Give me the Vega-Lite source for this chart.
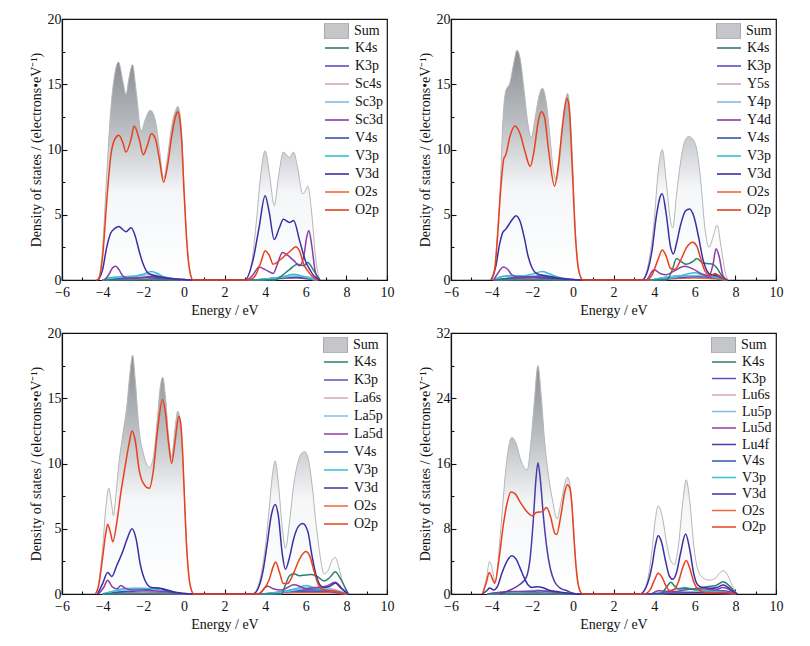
{
  "$schema": "https://vega.github.io/schema/vega-lite/v6.json",
  "background": "#ffffff",
  "padding": {"left": 28, "top": 11, "right": 4, "bottom": 4},
  "columns": 2,
  "spacing": {"row": 7, "column": 22},
  "datasets": {
    "A": [
      {"s":"Sum","x":-4.3,"y":0},{"s":"Sum","x":-4.2,"y":0.1},{"s":"Sum","x":-4.0,"y":2.5},{"s":"Sum","x":-3.8,"y":8},{"s":"Sum","x":-3.6,"y":13},{"s":"Sum","x":-3.4,"y":15.8},{"s":"Sum","x":-3.22,"y":16.7},{"s":"Sum","x":-3.0,"y":15.2},{"s":"Sum","x":-2.85,"y":14.2},{"s":"Sum","x":-2.7,"y":15.5},{"s":"Sum","x":-2.53,"y":16.5},{"s":"Sum","x":-2.35,"y":14.5},{"s":"Sum","x":-2.1,"y":11.4},{"s":"Sum","x":-1.9,"y":12.3},{"s":"Sum","x":-1.65,"y":13.0},{"s":"Sum","x":-1.4,"y":12.2},{"s":"Sum","x":-1.2,"y":10},{"s":"Sum","x":-1.0,"y":7.8},{"s":"Sum","x":-0.8,"y":9.5},{"s":"Sum","x":-0.6,"y":11.8},{"s":"Sum","x":-0.4,"y":13.0},{"s":"Sum","x":-0.3,"y":13.3},{"s":"Sum","x":-0.2,"y":12.8},{"s":"Sum","x":-0.1,"y":11},{"s":"Sum","x":0,"y":7.5},{"s":"Sum","x":0.1,"y":4.3},{"s":"Sum","x":0.2,"y":2},{"s":"Sum","x":0.3,"y":0.7},{"s":"Sum","x":0.45,"y":0},
      {"s":"Sum","x":3.0,"y":0},{"s":"Sum","x":3.2,"y":0.4},{"s":"Sum","x":3.4,"y":2},{"s":"Sum","x":3.6,"y":5},{"s":"Sum","x":3.8,"y":8.3},{"s":"Sum","x":4.0,"y":9.9},{"s":"Sum","x":4.2,"y":8.3},{"s":"Sum","x":4.45,"y":5.7},{"s":"Sum","x":4.65,"y":7.8},{"s":"Sum","x":4.9,"y":9.8},{"s":"Sum","x":5.05,"y":9.6},{"s":"Sum","x":5.2,"y":9.4},{"s":"Sum","x":5.4,"y":9.8},{"s":"Sum","x":5.6,"y":8.6},{"s":"Sum","x":5.85,"y":6.6},{"s":"Sum","x":6.0,"y":6.9},{"s":"Sum","x":6.1,"y":7.2},{"s":"Sum","x":6.3,"y":5},{"s":"Sum","x":6.5,"y":1.5},{"s":"Sum","x":6.7,"y":0},
      {"s":"O2s","x":-4,"y":0},{"s":"O2s","x":-2,"y":0.05},{"s":"O2s","x":0,"y":0},{"s":"O2s","x":3.5,"y":0},{"s":"O2s","x":4.5,"y":0.1},{"s":"O2s","x":5.5,"y":0.15},{"s":"O2s","x":6.5,"y":0},
      {"s":"Sc4s","x":-4,"y":0},{"s":"Sc4s","x":-2.5,"y":0.1},{"s":"Sc4s","x":-1.5,"y":0.15},{"s":"Sc4s","x":0,"y":0},{"s":"Sc4s","x":3.5,"y":0},{"s":"Sc4s","x":5,"y":0.2},{"s":"Sc4s","x":6,"y":0.25},{"s":"Sc4s","x":6.6,"y":0},
      {"s":"K3p","x":-4,"y":0},{"s":"K3p","x":-3,"y":0.1},{"s":"K3p","x":-2,"y":0.2},{"s":"K3p","x":-1.5,"y":0.25},{"s":"K3p","x":-1,"y":0.15},{"s":"K3p","x":0,"y":0},{"s":"K3p","x":3.5,"y":0},{"s":"K3p","x":4.5,"y":0.1},{"s":"K3p","x":5.5,"y":0.2},{"s":"K3p","x":6.5,"y":0},
      {"s":"V4s","x":-4,"y":0},{"s":"V4s","x":-3,"y":0.15},{"s":"V4s","x":-2,"y":0.2},{"s":"V4s","x":-1,"y":0.1},{"s":"V4s","x":0,"y":0},{"s":"V4s","x":3.5,"y":0},{"s":"V4s","x":4.5,"y":0.15},{"s":"V4s","x":5.5,"y":0.25},{"s":"V4s","x":6.5,"y":0},
      {"s":"Sc3p","x":-4,"y":0},{"s":"Sc3p","x":-3.5,"y":0.15},{"s":"Sc3p","x":-2.5,"y":0.25},{"s":"Sc3p","x":-2,"y":0.35},{"s":"Sc3p","x":-1.6,"y":0.45},{"s":"Sc3p","x":-1.2,"y":0.3},{"s":"Sc3p","x":-0.5,"y":0.1},{"s":"Sc3p","x":0,"y":0},{"s":"Sc3p","x":3.5,"y":0},{"s":"Sc3p","x":4.5,"y":0.15},{"s":"Sc3p","x":5.5,"y":0.3},{"s":"Sc3p","x":6,"y":0.25},{"s":"Sc3p","x":6.6,"y":0},
      {"s":"V3p","x":-4,"y":0},{"s":"V3p","x":-3.6,"y":0.2},{"s":"V3p","x":-3,"y":0.25},{"s":"V3p","x":-2.4,"y":0.3},{"s":"V3p","x":-2,"y":0.45},{"s":"V3p","x":-1.6,"y":0.65},{"s":"V3p","x":-1.3,"y":0.5},{"s":"V3p","x":-1,"y":0.25},{"s":"V3p","x":-0.5,"y":0.1},{"s":"V3p","x":0,"y":0},{"s":"V3p","x":3.5,"y":0},{"s":"V3p","x":4,"y":0.1},{"s":"V3p","x":4.5,"y":0.15},{"s":"V3p","x":5,"y":0.3},{"s":"V3p","x":5.4,"y":0.45},{"s":"V3p","x":5.7,"y":0.35},{"s":"V3p","x":6,"y":0.2},{"s":"V3p","x":6.5,"y":0},
      {"s":"K4s","x":-4,"y":0},{"s":"K4s","x":0,"y":0},{"s":"K4s","x":4.5,"y":0},{"s":"K4s","x":4.8,"y":0.3},{"s":"K4s","x":5.2,"y":0.8},{"s":"K4s","x":5.6,"y":1.2},{"s":"K4s","x":5.9,"y":1.1},{"s":"K4s","x":6.1,"y":1.35},{"s":"K4s","x":6.4,"y":0.7},{"s":"K4s","x":6.7,"y":0},
      {"s":"Sc3d","x":-3.9,"y":0},{"s":"Sc3d","x":-3.7,"y":0.4},{"s":"Sc3d","x":-3.5,"y":0.95},{"s":"Sc3d","x":-3.35,"y":1.05},{"s":"Sc3d","x":-3.2,"y":0.8},{"s":"Sc3d","x":-3.0,"y":0.3},{"s":"Sc3d","x":-2.8,"y":0.15},{"s":"Sc3d","x":-2.0,"y":0.2},{"s":"Sc3d","x":-1.5,"y":0.3},{"s":"Sc3d","x":-1.0,"y":0.15},{"s":"Sc3d","x":-0.5,"y":0.05},{"s":"Sc3d","x":0,"y":0},{"s":"Sc3d","x":3.1,"y":0},{"s":"Sc3d","x":3.4,"y":0.4},{"s":"Sc3d","x":3.7,"y":1.0},{"s":"Sc3d","x":4.0,"y":0.8},{"s":"Sc3d","x":4.4,"y":0.5},{"s":"Sc3d","x":4.6,"y":1.2},{"s":"Sc3d","x":4.85,"y":2.1},{"s":"Sc3d","x":5.1,"y":1.9},{"s":"Sc3d","x":5.4,"y":1.5},{"s":"Sc3d","x":5.7,"y":1.1},{"s":"Sc3d","x":5.9,"y":1.8},{"s":"Sc3d","x":6.05,"y":3.3},{"s":"Sc3d","x":6.15,"y":3.8},{"s":"Sc3d","x":6.3,"y":2.6},{"s":"Sc3d","x":6.45,"y":0.8},{"s":"Sc3d","x":6.6,"y":0},
      {"s":"V3d","x":-4.2,"y":0},{"s":"V3d","x":-4.0,"y":0.8},{"s":"V3d","x":-3.8,"y":2.5},{"s":"V3d","x":-3.6,"y":3.6},{"s":"V3d","x":-3.4,"y":3.95},{"s":"V3d","x":-3.2,"y":4.1},{"s":"V3d","x":-3.0,"y":3.85},{"s":"V3d","x":-2.85,"y":3.7},{"s":"V3d","x":-2.6,"y":4.0},{"s":"V3d","x":-2.4,"y":3.4},{"s":"V3d","x":-2.2,"y":2.2},{"s":"V3d","x":-2.0,"y":1.2},{"s":"V3d","x":-1.8,"y":0.6},{"s":"V3d","x":-1.5,"y":0.35},{"s":"V3d","x":-1.0,"y":0.2},{"s":"V3d","x":-0.5,"y":0.1},{"s":"V3d","x":0,"y":0.05},{"s":"V3d","x":0.3,"y":0},{"s":"V3d","x":3.0,"y":0},{"s":"V3d","x":3.4,"y":1.5},{"s":"V3d","x":3.7,"y":4},{"s":"V3d","x":4.0,"y":6.45},{"s":"V3d","x":4.2,"y":5.2},{"s":"V3d","x":4.45,"y":3.1},{"s":"V3d","x":4.7,"y":4},{"s":"V3d","x":4.9,"y":4.65},{"s":"V3d","x":5.2,"y":4.4},{"s":"V3d","x":5.4,"y":4.55},{"s":"V3d","x":5.7,"y":3},{"s":"V3d","x":6.0,"y":1.4},{"s":"V3d","x":6.2,"y":0.8},{"s":"V3d","x":6.4,"y":0.3},{"s":"V3d","x":6.7,"y":0},
      {"s":"O2p","x":-4.3,"y":0},{"s":"O2p","x":-4.2,"y":0.1},{"s":"O2p","x":-4.0,"y":1.8},{"s":"O2p","x":-3.8,"y":6},{"s":"O2p","x":-3.6,"y":9.5},{"s":"O2p","x":-3.4,"y":10.8},{"s":"O2p","x":-3.2,"y":11.1},{"s":"O2p","x":-3.0,"y":10.5},{"s":"O2p","x":-2.85,"y":9.8},{"s":"O2p","x":-2.6,"y":10.8},{"s":"O2p","x":-2.45,"y":11.8},{"s":"O2p","x":-2.2,"y":10.8},{"s":"O2p","x":-2.0,"y":9.6},{"s":"O2p","x":-1.8,"y":10.3},{"s":"O2p","x":-1.6,"y":11.2},{"s":"O2p","x":-1.4,"y":10.8},{"s":"O2p","x":-1.2,"y":9.2},{"s":"O2p","x":-1.0,"y":7.5},{"s":"O2p","x":-0.8,"y":8.8},{"s":"O2p","x":-0.6,"y":11},{"s":"O2p","x":-0.4,"y":12.6},{"s":"O2p","x":-0.3,"y":12.9},{"s":"O2p","x":-0.2,"y":12.3},{"s":"O2p","x":-0.1,"y":10.5},{"s":"O2p","x":0,"y":7},{"s":"O2p","x":0.1,"y":4},{"s":"O2p","x":0.2,"y":1.8},{"s":"O2p","x":0.3,"y":0.6},{"s":"O2p","x":0.45,"y":0},{"s":"O2p","x":3.2,"y":0},{"s":"O2p","x":3.5,"y":0.3},{"s":"O2p","x":3.8,"y":1.4},{"s":"O2p","x":4.0,"y":2.25},{"s":"O2p","x":4.2,"y":1.9},{"s":"O2p","x":4.4,"y":1.2},{"s":"O2p","x":4.7,"y":1.5},{"s":"O2p","x":5.0,"y":1.9},{"s":"O2p","x":5.3,"y":2.3},{"s":"O2p","x":5.5,"y":2.55},{"s":"O2p","x":5.7,"y":2.2},{"s":"O2p","x":5.9,"y":1.2},{"s":"O2p","x":6.1,"y":0.7},{"s":"O2p","x":6.3,"y":0.3},{"s":"O2p","x":6.6,"y":0}
    ],
    "B": [
      {"s":"Sum","x":-4.05,"y":0},{"s":"Sum","x":-3.85,"y":1},{"s":"Sum","x":-3.7,"y":4},{"s":"Sum","x":-3.55,"y":8},{"s":"Sum","x":-3.45,"y":12},{"s":"Sum","x":-3.3,"y":14.5},{"s":"Sum","x":-3.1,"y":15.1},{"s":"Sum","x":-2.9,"y":16.7},{"s":"Sum","x":-2.75,"y":17.6},{"s":"Sum","x":-2.6,"y":17.0},{"s":"Sum","x":-2.4,"y":14.5},{"s":"Sum","x":-2.2,"y":11.8},{"s":"Sum","x":-2.05,"y":10.9},{"s":"Sum","x":-1.85,"y":12.5},{"s":"Sum","x":-1.65,"y":14.2},{"s":"Sum","x":-1.5,"y":14.7},{"s":"Sum","x":-1.3,"y":13.5},{"s":"Sum","x":-1.1,"y":10.5},{"s":"Sum","x":-0.95,"y":8.3},{"s":"Sum","x":-0.8,"y":7.7},{"s":"Sum","x":-0.6,"y":10},{"s":"Sum","x":-0.4,"y":13.3},{"s":"Sum","x":-0.26,"y":14.3},{"s":"Sum","x":-0.15,"y":13},{"s":"Sum","x":0,"y":8.5},{"s":"Sum","x":0.1,"y":4.5},{"s":"Sum","x":0.2,"y":2},{"s":"Sum","x":0.3,"y":0.8},{"s":"Sum","x":0.5,"y":0},
      {"s":"Sum","x":3.4,"y":0},{"s":"Sum","x":3.6,"y":0.5},{"s":"Sum","x":3.8,"y":2},{"s":"Sum","x":4.0,"y":4.5},{"s":"Sum","x":4.2,"y":8.3},{"s":"Sum","x":4.4,"y":10.0},{"s":"Sum","x":4.6,"y":7.5},{"s":"Sum","x":4.8,"y":4.6},{"s":"Sum","x":4.92,"y":4.0},{"s":"Sum","x":5.1,"y":6.5},{"s":"Sum","x":5.3,"y":9.0},{"s":"Sum","x":5.5,"y":10.6},{"s":"Sum","x":5.7,"y":11.0},{"s":"Sum","x":5.9,"y":10.8},{"s":"Sum","x":6.1,"y":10.0},{"s":"Sum","x":6.3,"y":7.5},{"s":"Sum","x":6.5,"y":4.0},{"s":"Sum","x":6.7,"y":2.5},{"s":"Sum","x":6.9,"y":3.3},{"s":"Sum","x":7.1,"y":4.2},{"s":"Sum","x":7.3,"y":2.5},{"s":"Sum","x":7.5,"y":0.6},{"s":"Sum","x":7.65,"y":0},
      {"s":"O2s","x":-3.9,"y":0},{"s":"O2s","x":-2,"y":0.05},{"s":"O2s","x":0,"y":0},{"s":"O2s","x":3.8,"y":0},{"s":"O2s","x":5,"y":0.1},{"s":"O2s","x":6,"y":0.15},{"s":"O2s","x":7.5,"y":0},
      {"s":"Y5s","x":-3.9,"y":0},{"s":"Y5s","x":-2.5,"y":0.1},{"s":"Y5s","x":-1,"y":0.1},{"s":"Y5s","x":0,"y":0},{"s":"Y5s","x":3.8,"y":0},{"s":"Y5s","x":5,"y":0.2},{"s":"Y5s","x":6,"y":0.3},{"s":"Y5s","x":7,"y":0.2},{"s":"Y5s","x":7.6,"y":0},
      {"s":"K3p","x":-3.9,"y":0},{"s":"K3p","x":-3,"y":0.15},{"s":"K3p","x":-2,"y":0.2},{"s":"K3p","x":-1,"y":0.15},{"s":"K3p","x":0,"y":0},{"s":"K3p","x":3.8,"y":0},{"s":"K3p","x":5,"y":0.15},{"s":"K3p","x":6,"y":0.25},{"s":"K3p","x":7,"y":0.15},{"s":"K3p","x":7.6,"y":0},
      {"s":"V4s","x":-3.9,"y":0},{"s":"V4s","x":-3,"y":0.15},{"s":"V4s","x":-2,"y":0.2},{"s":"V4s","x":-1,"y":0.1},{"s":"V4s","x":0,"y":0},{"s":"V4s","x":3.8,"y":0},{"s":"V4s","x":4.5,"y":0.2},{"s":"V4s","x":5.5,"y":0.3},{"s":"V4s","x":6.5,"y":0.3},{"s":"V4s","x":7,"y":0.45},{"s":"V4s","x":7.5,"y":0},
      {"s":"Y4p","x":-3.9,"y":0},{"s":"Y4p","x":-3.4,"y":0.3},{"s":"Y4p","x":-3,"y":0.35},{"s":"Y4p","x":-2,"y":0.3},{"s":"Y4p","x":-1.5,"y":0.4},{"s":"Y4p","x":-1,"y":0.25},{"s":"Y4p","x":0,"y":0},{"s":"Y4p","x":3.8,"y":0},{"s":"Y4p","x":4.5,"y":0.2},{"s":"Y4p","x":5.5,"y":0.3},{"s":"Y4p","x":6.2,"y":0.35},{"s":"Y4p","x":7,"y":0.25},{"s":"Y4p","x":7.6,"y":0},
      {"s":"V3p","x":-3.9,"y":0},{"s":"V3p","x":-3.5,"y":0.25},{"s":"V3p","x":-3,"y":0.3},{"s":"V3p","x":-2.5,"y":0.3},{"s":"V3p","x":-2,"y":0.45},{"s":"V3p","x":-1.5,"y":0.65},{"s":"V3p","x":-1.2,"y":0.5},{"s":"V3p","x":-0.8,"y":0.25},{"s":"V3p","x":-0.3,"y":0.1},{"s":"V3p","x":0.1,"y":0},{"s":"V3p","x":3.8,"y":0},{"s":"V3p","x":4.2,"y":0.1},{"s":"V3p","x":5,"y":0.2},{"s":"V3p","x":5.6,"y":0.45},{"s":"V3p","x":6,"y":0.55},{"s":"V3p","x":6.4,"y":0.4},{"s":"V3p","x":7,"y":0.2},{"s":"V3p","x":7.5,"y":0},
      {"s":"K4s","x":-3.9,"y":0},{"s":"K4s","x":0,"y":0},{"s":"K4s","x":4.6,"y":0},{"s":"K4s","x":4.9,"y":0.8},{"s":"K4s","x":5.1,"y":1.65},{"s":"K4s","x":5.3,"y":1.45},{"s":"K4s","x":5.6,"y":1.2},{"s":"K4s","x":5.9,"y":1.4},{"s":"K4s","x":6.1,"y":1.65},{"s":"K4s","x":6.4,"y":1.3},{"s":"K4s","x":6.7,"y":1.25},{"s":"K4s","x":6.9,"y":1.2},{"s":"K4s","x":7.1,"y":0.9},{"s":"K4s","x":7.3,"y":0.4},{"s":"K4s","x":7.5,"y":0},
      {"s":"Y4d","x":-3.9,"y":0},{"s":"Y4d","x":-3.7,"y":0.5},{"s":"Y4d","x":-3.42,"y":1.0},{"s":"Y4d","x":-3.2,"y":0.8},{"s":"Y4d","x":-3.0,"y":0.4},{"s":"Y4d","x":-2.7,"y":0.25},{"s":"Y4d","x":-2.0,"y":0.25},{"s":"Y4d","x":-1.5,"y":0.3},{"s":"Y4d","x":-1.0,"y":0.25},{"s":"Y4d","x":-0.5,"y":0.1},{"s":"Y4d","x":0,"y":0},{"s":"Y4d","x":3.6,"y":0},{"s":"Y4d","x":4.0,"y":0.78},{"s":"Y4d","x":4.3,"y":0.5},{"s":"Y4d","x":4.6,"y":0.4},{"s":"Y4d","x":5.0,"y":0.7},{"s":"Y4d","x":5.5,"y":1.05},{"s":"Y4d","x":5.9,"y":0.85},{"s":"Y4d","x":6.3,"y":0.5},{"s":"Y4d","x":6.7,"y":0.3},{"s":"Y4d","x":6.9,"y":1.2},{"s":"Y4d","x":7.05,"y":2.4},{"s":"Y4d","x":7.2,"y":1.8},{"s":"Y4d","x":7.4,"y":0.3},{"s":"Y4d","x":7.6,"y":0},
      {"s":"V3d","x":-4.0,"y":0},{"s":"V3d","x":-3.8,"y":1},{"s":"V3d","x":-3.6,"y":2.8},{"s":"V3d","x":-3.45,"y":3.65},{"s":"V3d","x":-3.3,"y":3.9},{"s":"V3d","x":-3.0,"y":4.6},{"s":"V3d","x":-2.8,"y":4.93},{"s":"V3d","x":-2.6,"y":4.5},{"s":"V3d","x":-2.4,"y":3.3},{"s":"V3d","x":-2.2,"y":1.8},{"s":"V3d","x":-2.0,"y":0.9},{"s":"V3d","x":-1.8,"y":0.5},{"s":"V3d","x":-1.5,"y":0.35},{"s":"V3d","x":-1.0,"y":0.2},{"s":"V3d","x":-0.5,"y":0.1},{"s":"V3d","x":0,"y":0.05},{"s":"V3d","x":0.3,"y":0},{"s":"V3d","x":3.4,"y":0},{"s":"V3d","x":3.7,"y":0.8},{"s":"V3d","x":3.9,"y":2.3},{"s":"V3d","x":4.1,"y":4.8},{"s":"V3d","x":4.3,"y":6.4},{"s":"V3d","x":4.4,"y":6.6},{"s":"V3d","x":4.6,"y":5.0},{"s":"V3d","x":4.8,"y":2.6},{"s":"V3d","x":4.95,"y":2.0},{"s":"V3d","x":5.1,"y":2.8},{"s":"V3d","x":5.3,"y":4.2},{"s":"V3d","x":5.55,"y":5.3},{"s":"V3d","x":5.75,"y":5.45},{"s":"V3d","x":5.95,"y":4.9},{"s":"V3d","x":6.2,"y":3.2},{"s":"V3d","x":6.4,"y":1.6},{"s":"V3d","x":6.6,"y":0.7},{"s":"V3d","x":6.8,"y":0.4},{"s":"V3d","x":7.1,"y":0.3},{"s":"V3d","x":7.4,"y":0.1},{"s":"V3d","x":7.6,"y":0},
      {"s":"O2p","x":-4.05,"y":0},{"s":"O2p","x":-3.85,"y":0.8},{"s":"O2p","x":-3.7,"y":3.5},{"s":"O2p","x":-3.55,"y":7},{"s":"O2p","x":-3.4,"y":9.3},{"s":"O2p","x":-3.3,"y":9.6},{"s":"O2p","x":-3.1,"y":11},{"s":"O2p","x":-2.85,"y":11.8},{"s":"O2p","x":-2.6,"y":11.2},{"s":"O2p","x":-2.35,"y":9.8},{"s":"O2p","x":-2.1,"y":8.7},{"s":"O2p","x":-1.9,"y":10},{"s":"O2p","x":-1.7,"y":12.2},{"s":"O2p","x":-1.55,"y":12.9},{"s":"O2p","x":-1.4,"y":12.5},{"s":"O2p","x":-1.2,"y":10},{"s":"O2p","x":-0.9,"y":7.2},{"s":"O2p","x":-0.7,"y":9},{"s":"O2p","x":-0.5,"y":12},{"s":"O2p","x":-0.3,"y":13.9},{"s":"O2p","x":-0.2,"y":13.5},{"s":"O2p","x":-0.1,"y":11},{"s":"O2p","x":0,"y":7.5},{"s":"O2p","x":0.1,"y":4},{"s":"O2p","x":0.2,"y":1.8},{"s":"O2p","x":0.3,"y":0.6},{"s":"O2p","x":0.5,"y":0},{"s":"O2p","x":3.6,"y":0},{"s":"O2p","x":3.9,"y":0.4},{"s":"O2p","x":4.2,"y":1.6},{"s":"O2p","x":4.4,"y":2.3},{"s":"O2p","x":4.6,"y":1.8},{"s":"O2p","x":4.8,"y":0.9},{"s":"O2p","x":5.0,"y":0.8},{"s":"O2p","x":5.3,"y":1.5},{"s":"O2p","x":5.6,"y":2.5},{"s":"O2p","x":5.9,"y":2.9},{"s":"O2p","x":6.1,"y":2.6},{"s":"O2p","x":6.3,"y":1.6},{"s":"O2p","x":6.5,"y":0.7},{"s":"O2p","x":6.8,"y":0.3},{"s":"O2p","x":7.0,"y":0.5},{"s":"O2p","x":7.2,"y":0.3},{"s":"O2p","x":7.5,"y":0}
    ],
    "C": [
      {"s":"Sum","x":-4.35,"y":0},{"s":"Sum","x":-4.2,"y":0.8},{"s":"Sum","x":-4.0,"y":3.5},{"s":"Sum","x":-3.85,"y":6.5},{"s":"Sum","x":-3.7,"y":8.1},{"s":"Sum","x":-3.55,"y":6.8},{"s":"Sum","x":-3.47,"y":6.0},{"s":"Sum","x":-3.35,"y":7.5},{"s":"Sum","x":-3.2,"y":10},{"s":"Sum","x":-3.0,"y":12.3},{"s":"Sum","x":-2.8,"y":14.5},{"s":"Sum","x":-2.65,"y":17},{"s":"Sum","x":-2.52,"y":18.3},{"s":"Sum","x":-2.4,"y":16.5},{"s":"Sum","x":-2.2,"y":12.5},{"s":"Sum","x":-2.0,"y":10.8},{"s":"Sum","x":-1.7,"y":9.7},{"s":"Sum","x":-1.5,"y":10.5},{"s":"Sum","x":-1.3,"y":13.5},{"s":"Sum","x":-1.15,"y":16},{"s":"Sum","x":-1.04,"y":16.6},{"s":"Sum","x":-0.9,"y":15},{"s":"Sum","x":-0.75,"y":12},{"s":"Sum","x":-0.6,"y":10.5},{"s":"Sum","x":-0.45,"y":12.5},{"s":"Sum","x":-0.3,"y":14.0},{"s":"Sum","x":-0.2,"y":13.5},{"s":"Sum","x":-0.1,"y":11.5},{"s":"Sum","x":0,"y":8.5},{"s":"Sum","x":0.1,"y":5},{"s":"Sum","x":0.2,"y":2.2},{"s":"Sum","x":0.3,"y":0.8},{"s":"Sum","x":0.5,"y":0},
      {"s":"Sum","x":3.4,"y":0},{"s":"Sum","x":3.6,"y":0.4},{"s":"Sum","x":3.8,"y":1.5},{"s":"Sum","x":4.0,"y":3.5},{"s":"Sum","x":4.2,"y":6.5},{"s":"Sum","x":4.35,"y":9},{"s":"Sum","x":4.5,"y":10.2},{"s":"Sum","x":4.65,"y":8.5},{"s":"Sum","x":4.85,"y":5},{"s":"Sum","x":5.0,"y":3.5},{"s":"Sum","x":5.2,"y":5.5},{"s":"Sum","x":5.4,"y":8.3},{"s":"Sum","x":5.6,"y":10.0},{"s":"Sum","x":5.8,"y":10.8},{"s":"Sum","x":5.95,"y":10.9},{"s":"Sum","x":6.1,"y":10.5},{"s":"Sum","x":6.3,"y":8.5},{"s":"Sum","x":6.5,"y":5.5},{"s":"Sum","x":6.7,"y":3},{"s":"Sum","x":6.9,"y":1.55},{"s":"Sum","x":7.1,"y":1.8},{"s":"Sum","x":7.3,"y":2.6},{"s":"Sum","x":7.45,"y":2.8},{"s":"Sum","x":7.6,"y":2.2},{"s":"Sum","x":7.8,"y":1.0},{"s":"Sum","x":8.0,"y":0.2},{"s":"Sum","x":8.1,"y":0},
      {"s":"O2s","x":-4,"y":0},{"s":"O2s","x":-2,"y":0.05},{"s":"O2s","x":0,"y":0},{"s":"O2s","x":3.8,"y":0},{"s":"O2s","x":5.5,"y":0.1},{"s":"O2s","x":7,"y":0.1},{"s":"O2s","x":8,"y":0},
      {"s":"La6s","x":-4,"y":0},{"s":"La6s","x":-2.5,"y":0.1},{"s":"La6s","x":-1,"y":0.1},{"s":"La6s","x":0,"y":0},{"s":"La6s","x":3.8,"y":0},{"s":"La6s","x":5,"y":0.1},{"s":"La6s","x":6,"y":0.3},{"s":"La6s","x":7,"y":0.5},{"s":"La6s","x":7.5,"y":0.3},{"s":"La6s","x":8.1,"y":0},
      {"s":"K3p","x":-4,"y":0},{"s":"K3p","x":-3,"y":0.15},{"s":"K3p","x":-2,"y":0.2},{"s":"K3p","x":-1,"y":0.15},{"s":"K3p","x":0,"y":0},{"s":"K3p","x":3.8,"y":0},{"s":"K3p","x":5.5,"y":0.2},{"s":"K3p","x":7,"y":0.2},{"s":"K3p","x":8,"y":0},
      {"s":"V4s","x":-4,"y":0},{"s":"V4s","x":-3,"y":0.2},{"s":"V4s","x":-2,"y":0.3},{"s":"V4s","x":-1.2,"y":0.45},{"s":"V4s","x":-0.5,"y":0.15},{"s":"V4s","x":0,"y":0},{"s":"V4s","x":3.8,"y":0},{"s":"V4s","x":5,"y":0.2},{"s":"V4s","x":6,"y":0.3},{"s":"V4s","x":7,"y":0.3},{"s":"V4s","x":8,"y":0},
      {"s":"La5p","x":-4,"y":0},{"s":"La5p","x":-3,"y":0.3},{"s":"La5p","x":-2,"y":0.25},{"s":"La5p","x":-1,"y":0.2},{"s":"La5p","x":0,"y":0},{"s":"La5p","x":3.8,"y":0},{"s":"La5p","x":4.5,"y":0.1},{"s":"La5p","x":5.5,"y":0.3},{"s":"La5p","x":6,"y":0.5},{"s":"La5p","x":7,"y":0.4},{"s":"La5p","x":8,"y":0},
      {"s":"V3p","x":-4,"y":0},{"s":"V3p","x":-3.5,"y":0.2},{"s":"V3p","x":-3,"y":0.4},{"s":"V3p","x":-2.5,"y":0.45},{"s":"V3p","x":-2,"y":0.45},{"s":"V3p","x":-1.5,"y":0.4},{"s":"V3p","x":-1,"y":0.3},{"s":"V3p","x":-0.5,"y":0.1},{"s":"V3p","x":0,"y":0},{"s":"V3p","x":3.8,"y":0},{"s":"V3p","x":4.5,"y":0.1},{"s":"V3p","x":5.5,"y":0.4},{"s":"V3p","x":6,"y":0.65},{"s":"V3p","x":6.4,"y":0.5},{"s":"V3p","x":7,"y":0.3},{"s":"V3p","x":7.5,"y":0.2},{"s":"V3p","x":8,"y":0},
      {"s":"K4s","x":-4,"y":0},{"s":"K4s","x":0,"y":0},{"s":"K4s","x":4.8,"y":0},{"s":"K4s","x":5.0,"y":0.7},{"s":"K4s","x":5.2,"y":1.4},{"s":"K4s","x":5.4,"y":1.55},{"s":"K4s","x":5.7,"y":1.4},{"s":"K4s","x":6.0,"y":1.45},{"s":"K4s","x":6.3,"y":1.5},{"s":"K4s","x":6.6,"y":1.3},{"s":"K4s","x":6.9,"y":1.0},{"s":"K4s","x":7.2,"y":1.3},{"s":"K4s","x":7.45,"y":1.7},{"s":"K4s","x":7.7,"y":1.2},{"s":"K4s","x":8.0,"y":0.3},{"s":"K4s","x":8.1,"y":0},
      {"s":"La5d","x":-4.2,"y":0},{"s":"La5d","x":-3.95,"y":0.5},{"s":"La5d","x":-3.75,"y":1.05},{"s":"La5d","x":-3.55,"y":0.6},{"s":"La5d","x":-3.3,"y":0.4},{"s":"La5d","x":-3.1,"y":0.65},{"s":"La5d","x":-2.9,"y":0.45},{"s":"La5d","x":-2.5,"y":0.3},{"s":"La5d","x":-2.0,"y":0.3},{"s":"La5d","x":-1.5,"y":0.25},{"s":"La5d","x":-1.0,"y":0.2},{"s":"La5d","x":-0.5,"y":0.1},{"s":"La5d","x":0,"y":0},{"s":"La5d","x":3.7,"y":0},{"s":"La5d","x":4.0,"y":0.5},{"s":"La5d","x":4.15,"y":0.6},{"s":"La5d","x":4.4,"y":0.4},{"s":"La5d","x":4.8,"y":0.3},{"s":"La5d","x":5.1,"y":0.5},{"s":"La5d","x":5.4,"y":0.7},{"s":"La5d","x":5.7,"y":0.6},{"s":"La5d","x":6.0,"y":0.4},{"s":"La5d","x":6.5,"y":0.5},{"s":"La5d","x":7.0,"y":0.6},{"s":"La5d","x":7.45,"y":0.9},{"s":"La5d","x":7.8,"y":0.4},{"s":"La5d","x":8.1,"y":0},
      {"s":"V3d","x":-4.25,"y":0},{"s":"V3d","x":-4.0,"y":0.8},{"s":"V3d","x":-3.75,"y":1.65},{"s":"V3d","x":-3.55,"y":1.35},{"s":"V3d","x":-3.3,"y":2.2},{"s":"V3d","x":-3.0,"y":3.3},{"s":"V3d","x":-2.8,"y":4.2},{"s":"V3d","x":-2.55,"y":5.0},{"s":"V3d","x":-2.35,"y":4.2},{"s":"V3d","x":-2.15,"y":2.3},{"s":"V3d","x":-1.9,"y":1.0},{"s":"V3d","x":-1.6,"y":0.5},{"s":"V3d","x":-1.2,"y":0.45},{"s":"V3d","x":-0.9,"y":0.3},{"s":"V3d","x":-0.5,"y":0.15},{"s":"V3d","x":0,"y":0.05},{"s":"V3d","x":0.3,"y":0},{"s":"V3d","x":3.4,"y":0},{"s":"V3d","x":3.7,"y":0.6},{"s":"V3d","x":3.9,"y":1.8},{"s":"V3d","x":4.1,"y":3.8},{"s":"V3d","x":4.3,"y":6.0},{"s":"V3d","x":4.5,"y":6.85},{"s":"V3d","x":4.65,"y":6.0},{"s":"V3d","x":4.85,"y":3.0},{"s":"V3d","x":5.0,"y":1.9},{"s":"V3d","x":5.2,"y":2.8},{"s":"V3d","x":5.4,"y":4.2},{"s":"V3d","x":5.65,"y":5.2},{"s":"V3d","x":5.85,"y":5.4},{"s":"V3d","x":6.1,"y":4.8},{"s":"V3d","x":6.3,"y":3.0},{"s":"V3d","x":6.5,"y":1.5},{"s":"V3d","x":6.7,"y":0.7},{"s":"V3d","x":6.9,"y":0.5},{"s":"V3d","x":7.2,"y":0.6},{"s":"V3d","x":7.45,"y":0.85},{"s":"V3d","x":7.7,"y":0.5},{"s":"V3d","x":8.0,"y":0.1},{"s":"V3d","x":8.1,"y":0},
      {"s":"O2p","x":-4.35,"y":0},{"s":"O2p","x":-4.2,"y":0.6},{"s":"O2p","x":-4.0,"y":2.8},{"s":"O2p","x":-3.85,"y":4.6},{"s":"O2p","x":-3.75,"y":5.35},{"s":"O2p","x":-3.6,"y":4.6},{"s":"O2p","x":-3.5,"y":4.0},{"s":"O2p","x":-3.3,"y":5.5},{"s":"O2p","x":-3.1,"y":7.8},{"s":"O2p","x":-2.9,"y":9.7},{"s":"O2p","x":-2.7,"y":11.5},{"s":"O2p","x":-2.55,"y":12.5},{"s":"O2p","x":-2.4,"y":11.8},{"s":"O2p","x":-2.2,"y":9.5},{"s":"O2p","x":-2.0,"y":8.5},{"s":"O2p","x":-1.7,"y":8.1},{"s":"O2p","x":-1.5,"y":9.5},{"s":"O2p","x":-1.3,"y":12.5},{"s":"O2p","x":-1.05,"y":14.9},{"s":"O2p","x":-0.9,"y":13.8},{"s":"O2p","x":-0.75,"y":11.5},{"s":"O2p","x":-0.6,"y":10.0},{"s":"O2p","x":-0.45,"y":11.5},{"s":"O2p","x":-0.25,"y":13.6},{"s":"O2p","x":-0.15,"y":13},{"s":"O2p","x":-0.05,"y":10.5},{"s":"O2p","x":0.05,"y":6.5},{"s":"O2p","x":0.15,"y":3.2},{"s":"O2p","x":0.25,"y":1.3},{"s":"O2p","x":0.35,"y":0.4},{"s":"O2p","x":0.5,"y":0},{"s":"O2p","x":3.6,"y":0},{"s":"O2p","x":3.9,"y":0.3},{"s":"O2p","x":4.2,"y":1.1},{"s":"O2p","x":4.4,"y":2.1},{"s":"O2p","x":4.52,"y":2.45},{"s":"O2p","x":4.7,"y":1.7},{"s":"O2p","x":4.9,"y":0.8},{"s":"O2p","x":5.1,"y":0.8},{"s":"O2p","x":5.4,"y":1.6},{"s":"O2p","x":5.7,"y":2.7},{"s":"O2p","x":6.0,"y":3.25},{"s":"O2p","x":6.2,"y":2.9},{"s":"O2p","x":6.4,"y":1.8},{"s":"O2p","x":6.6,"y":0.8},{"s":"O2p","x":6.9,"y":0.3},{"s":"O2p","x":7.3,"y":0.25},{"s":"O2p","x":7.6,"y":0.15},{"s":"O2p","x":8.0,"y":0}
    ],
    "D": [
      {"s":"Sum","x":-4.45,"y":0},{"s":"Sum","x":-4.25,"y":2},{"s":"Sum","x":-4.1,"y":4.0},{"s":"Sum","x":-3.95,"y":2.8},{"s":"Sum","x":-3.82,"y":1.4},{"s":"Sum","x":-3.65,"y":5},{"s":"Sum","x":-3.45,"y":11},{"s":"Sum","x":-3.25,"y":16.5},{"s":"Sum","x":-3.0,"y":19.2},{"s":"Sum","x":-2.8,"y":18.5},{"s":"Sum","x":-2.55,"y":16.3},{"s":"Sum","x":-2.25,"y":15.2},{"s":"Sum","x":-2.05,"y":19},{"s":"Sum","x":-1.9,"y":23.5},{"s":"Sum","x":-1.72,"y":28.0},{"s":"Sum","x":-1.55,"y":24},{"s":"Sum","x":-1.4,"y":19},{"s":"Sum","x":-1.2,"y":14.5},{"s":"Sum","x":-1.0,"y":11.5},{"s":"Sum","x":-0.78,"y":9.2},{"s":"Sum","x":-0.6,"y":11},{"s":"Sum","x":-0.4,"y":13.5},{"s":"Sum","x":-0.27,"y":14.3},{"s":"Sum","x":-0.15,"y":13.5},{"s":"Sum","x":0,"y":9.5},{"s":"Sum","x":0.1,"y":5.5},{"s":"Sum","x":0.2,"y":2.5},{"s":"Sum","x":0.3,"y":0.8},{"s":"Sum","x":0.45,"y":0},
      {"s":"Sum","x":3.3,"y":0},{"s":"Sum","x":3.5,"y":0.5},{"s":"Sum","x":3.7,"y":2},{"s":"Sum","x":3.9,"y":5.5},{"s":"Sum","x":4.05,"y":9},{"s":"Sum","x":4.2,"y":10.8},{"s":"Sum","x":4.4,"y":9.5},{"s":"Sum","x":4.6,"y":6.5},{"s":"Sum","x":4.8,"y":4.2},{"s":"Sum","x":5.0,"y":3.6},{"s":"Sum","x":5.2,"y":6},{"s":"Sum","x":5.4,"y":11},{"s":"Sum","x":5.58,"y":14.0},{"s":"Sum","x":5.75,"y":11.5},{"s":"Sum","x":5.95,"y":6},{"s":"Sum","x":6.15,"y":3},{"s":"Sum","x":6.4,"y":2.0},{"s":"Sum","x":6.7,"y":1.7},{"s":"Sum","x":7.0,"y":1.9},{"s":"Sum","x":7.2,"y":2.5},{"s":"Sum","x":7.4,"y":2.85},{"s":"Sum","x":7.6,"y":2.4},{"s":"Sum","x":7.8,"y":1.3},{"s":"Sum","x":8.0,"y":0.3},{"s":"Sum","x":8.1,"y":0},
      {"s":"O2s","x":-4.2,"y":0},{"s":"O2s","x":-2,"y":0.05},{"s":"O2s","x":0,"y":0},{"s":"O2s","x":3.8,"y":0},{"s":"O2s","x":5.5,"y":0.1},{"s":"O2s","x":7,"y":0.1},{"s":"O2s","x":8,"y":0},
      {"s":"Lu6s","x":-4.2,"y":0},{"s":"Lu6s","x":-2,"y":0.1},{"s":"Lu6s","x":0,"y":0},{"s":"Lu6s","x":3.8,"y":0},{"s":"Lu6s","x":5.5,"y":0.15},{"s":"Lu6s","x":7,"y":0.2},{"s":"Lu6s","x":8,"y":0},
      {"s":"K3p","x":-4.2,"y":0},{"s":"K3p","x":-3,"y":0.2},{"s":"K3p","x":-2,"y":0.25},{"s":"K3p","x":-1,"y":0.15},{"s":"K3p","x":0,"y":0},{"s":"K3p","x":3.8,"y":0},{"s":"K3p","x":5.5,"y":0.2},{"s":"K3p","x":7,"y":0.2},{"s":"K3p","x":8,"y":0},
      {"s":"V4s","x":-4.2,"y":0},{"s":"V4s","x":-3,"y":0.2},{"s":"V4s","x":-1.7,"y":0.3},{"s":"V4s","x":-0.5,"y":0.1},{"s":"V4s","x":0,"y":0},{"s":"V4s","x":3.8,"y":0},{"s":"V4s","x":5,"y":0.2},{"s":"V4s","x":6,"y":0.3},{"s":"V4s","x":7.4,"y":0.4},{"s":"V4s","x":8,"y":0},
      {"s":"Lu5p","x":-4.2,"y":0},{"s":"Lu5p","x":-3,"y":0.2},{"s":"Lu5p","x":-1.7,"y":0.3},{"s":"Lu5p","x":-1,"y":0.2},{"s":"Lu5p","x":0,"y":0},{"s":"Lu5p","x":3.8,"y":0},{"s":"Lu5p","x":5,"y":0.2},{"s":"Lu5p","x":6,"y":0.3},{"s":"Lu5p","x":7,"y":0.3},{"s":"Lu5p","x":8,"y":0},
      {"s":"V3p","x":-4.2,"y":0},{"s":"V3p","x":-3.5,"y":0.2},{"s":"V3p","x":-2.5,"y":0.3},{"s":"V3p","x":-1.7,"y":0.45},{"s":"V3p","x":-1,"y":0.3},{"s":"V3p","x":-0.3,"y":0.1},{"s":"V3p","x":0.1,"y":0},{"s":"V3p","x":3.8,"y":0},{"s":"V3p","x":4.5,"y":0.2},{"s":"V3p","x":5.5,"y":0.8},{"s":"V3p","x":6,"y":0.5},{"s":"V3p","x":6.5,"y":0.4},{"s":"V3p","x":7,"y":0.3},{"s":"V3p","x":7.5,"y":0.2},{"s":"V3p","x":8,"y":0},
      {"s":"Lu5d","x":-4.2,"y":0},{"s":"Lu5d","x":-3,"y":0.3},{"s":"Lu5d","x":-2,"y":0.3},{"s":"Lu5d","x":-1.7,"y":0.4},{"s":"Lu5d","x":-1,"y":0.25},{"s":"Lu5d","x":0,"y":0},{"s":"Lu5d","x":3.8,"y":0},{"s":"Lu5d","x":4.2,"y":0.4},{"s":"Lu5d","x":5,"y":0.3},{"s":"Lu5d","x":5.5,"y":0.5},{"s":"Lu5d","x":6,"y":0.6},{"s":"Lu5d","x":6.5,"y":0.6},{"s":"Lu5d","x":7,"y":0.5},{"s":"Lu5d","x":7.4,"y":0.8},{"s":"Lu5d","x":8,"y":0},
      {"s":"K4s","x":-4.2,"y":0},{"s":"K4s","x":0,"y":0},{"s":"K4s","x":4.3,"y":0},{"s":"K4s","x":4.6,"y":0.8},{"s":"K4s","x":4.82,"y":1.45},{"s":"K4s","x":5.0,"y":1.0},{"s":"K4s","x":5.2,"y":0.6},{"s":"K4s","x":5.5,"y":0.7},{"s":"K4s","x":5.8,"y":0.6},{"s":"K4s","x":6.2,"y":0.7},{"s":"K4s","x":6.6,"y":0.9},{"s":"K4s","x":7.0,"y":1.0},{"s":"K4s","x":7.4,"y":1.5},{"s":"K4s","x":7.7,"y":1.0},{"s":"K4s","x":8.0,"y":0.2},{"s":"K4s","x":8.1,"y":0},
      {"s":"Lu4f","x":-3.6,"y":0},{"s":"Lu4f","x":-3.0,"y":0.6},{"s":"Lu4f","x":-2.6,"y":1.2},{"s":"Lu4f","x":-2.3,"y":2.0},{"s":"Lu4f","x":-2.1,"y":4.5},{"s":"Lu4f","x":-1.95,"y":9},{"s":"Lu4f","x":-1.82,"y":14},{"s":"Lu4f","x":-1.72,"y":16.1},{"s":"Lu4f","x":-1.6,"y":14},{"s":"Lu4f","x":-1.45,"y":9.5},{"s":"Lu4f","x":-1.3,"y":6},{"s":"Lu4f","x":-1.1,"y":3},{"s":"Lu4f","x":-0.9,"y":1.5},{"s":"Lu4f","x":-0.6,"y":0.7},{"s":"Lu4f","x":-0.3,"y":0.4},{"s":"Lu4f","x":0,"y":0.1},{"s":"Lu4f","x":0.2,"y":0},{"s":"Lu4f","x":3.5,"y":0},{"s":"Lu4f","x":4.5,"y":0.1},{"s":"Lu4f","x":6,"y":0.15},{"s":"Lu4f","x":8,"y":0},
      {"s":"V3d","x":-4.45,"y":0},{"s":"V3d","x":-4.2,"y":0.5},{"s":"V3d","x":-4.1,"y":0.75},{"s":"V3d","x":-3.9,"y":0.5},{"s":"V3d","x":-3.7,"y":1.0},{"s":"V3d","x":-3.5,"y":2.5},{"s":"V3d","x":-3.25,"y":4},{"s":"V3d","x":-3.0,"y":4.7},{"s":"V3d","x":-2.8,"y":4.3},{"s":"V3d","x":-2.6,"y":3.2},{"s":"V3d","x":-2.4,"y":2.0},{"s":"V3d","x":-2.2,"y":1.1},{"s":"V3d","x":-2.0,"y":0.8},{"s":"V3d","x":-1.75,"y":0.9},{"s":"V3d","x":-1.5,"y":0.8},{"s":"V3d","x":-1.2,"y":0.5},{"s":"V3d","x":-0.8,"y":0.3},{"s":"V3d","x":-0.4,"y":0.15},{"s":"V3d","x":0,"y":0.05},{"s":"V3d","x":0.3,"y":0},{"s":"V3d","x":3.3,"y":0},{"s":"V3d","x":3.6,"y":0.8},{"s":"V3d","x":3.9,"y":3.5},{"s":"V3d","x":4.05,"y":5.8},{"s":"V3d","x":4.2,"y":7.15},{"s":"V3d","x":4.35,"y":6.5},{"s":"V3d","x":4.55,"y":4.2},{"s":"V3d","x":4.75,"y":2.2},{"s":"V3d","x":4.92,"y":1.8},{"s":"V3d","x":5.1,"y":2.6},{"s":"V3d","x":5.3,"y":5},{"s":"V3d","x":5.55,"y":7.35},{"s":"V3d","x":5.75,"y":5.5},{"s":"V3d","x":5.95,"y":2.5},{"s":"V3d","x":6.15,"y":1.1},{"s":"V3d","x":6.4,"y":0.8},{"s":"V3d","x":6.8,"y":0.7},{"s":"V3d","x":7.1,"y":0.8},{"s":"V3d","x":7.4,"y":1.1},{"s":"V3d","x":7.7,"y":0.7},{"s":"V3d","x":8.0,"y":0.1},{"s":"V3d","x":8.1,"y":0},
      {"s":"O2p","x":-4.45,"y":0},{"s":"O2p","x":-4.25,"y":1.5},{"s":"O2p","x":-4.12,"y":2.65},{"s":"O2p","x":-3.95,"y":1.8},{"s":"O2p","x":-3.85,"y":1.3},{"s":"O2p","x":-3.65,"y":4},{"s":"O2p","x":-3.45,"y":8},{"s":"O2p","x":-3.25,"y":11},{"s":"O2p","x":-3.05,"y":12.5},{"s":"O2p","x":-2.85,"y":12.3},{"s":"O2p","x":-2.6,"y":11.3},{"s":"O2p","x":-2.3,"y":10.2},{"s":"O2p","x":-2.0,"y":9.6},{"s":"O2p","x":-1.8,"y":10.0},{"s":"O2p","x":-1.5,"y":10.1},{"s":"O2p","x":-1.3,"y":10.6},{"s":"O2p","x":-1.1,"y":9.5},{"s":"O2p","x":-0.9,"y":7.5},{"s":"O2p","x":-0.8,"y":7.3},{"s":"O2p","x":-0.6,"y":9.5},{"s":"O2p","x":-0.4,"y":12.5},{"s":"O2p","x":-0.27,"y":13.4},{"s":"O2p","x":-0.15,"y":13},{"s":"O2p","x":-0.05,"y":11},{"s":"O2p","x":0.05,"y":7},{"s":"O2p","x":0.15,"y":3.5},{"s":"O2p","x":0.25,"y":1.3},{"s":"O2p","x":0.35,"y":0.4},{"s":"O2p","x":0.5,"y":0},{"s":"O2p","x":3.5,"y":0},{"s":"O2p","x":3.8,"y":0.5},{"s":"O2p","x":4.0,"y":1.6},{"s":"O2p","x":4.2,"y":2.55},{"s":"O2p","x":4.4,"y":2.0},{"s":"O2p","x":4.6,"y":0.9},{"s":"O2p","x":4.8,"y":0.4},{"s":"O2p","x":5.0,"y":0.6},{"s":"O2p","x":5.2,"y":1.5},{"s":"O2p","x":5.4,"y":3.2},{"s":"O2p","x":5.58,"y":4.1},{"s":"O2p","x":5.75,"y":3.2},{"s":"O2p","x":5.95,"y":1.5},{"s":"O2p","x":6.15,"y":0.6},{"s":"O2p","x":6.5,"y":0.2},{"s":"O2p","x":7.0,"y":0.15},{"s":"O2p","x":7.5,"y":0.2},{"s":"O2p","x":8.0,"y":0}
    ]
  },
  "concat": [
    {
      "width": 325, "height": 261,
      "data": {"name": "A"},
      "encoding": {
        "x": {"field": "x", "type": "quantitative", "scale": {"domain": [-6, 10], "nice": false, "zero": false},
          "axis": {"title": "Energy / eV", "values": [-6,-5,-4,-3,-2,-1,0,1,2,3,4,5,6,7,8,9,10], "labelExpr": "datum.value % 2 === 0 ? datum.label : ''", "tickSize": {"condition": {"test": "datum.value % 2 === 0", "value": -5}, "value": -3}, "labelPadding": 10, "titlePadding": 2}},
        "y": {"field": "y", "type": "quantitative", "scale": {"domain": [0, 20], "nice": false},
          "axis": {"title": "Density of states / (electrons•eV⁻¹)", "values": [0,2.5,5,7.5,10,12.5,15,17.5,20], "labelExpr": "datum.value % 5 === 0 ? datum.label : ''", "tickSize": {"condition": {"test": "datum.value % 5 === 0", "value": -5}, "value": -3}, "labelPadding": 6, "titlePadding": 4}}
      },
      "layer": [
        {"transform": [{"filter": "datum.s === 'Sum'"}], "mark": {"type": "area", "interpolate": "monotone"},
          "encoding": {"fill": {"field": "s", "type": "nominal", "scale": {"domain": ["Sum"], "range": ["#c4c6c9"]},
            "legend": {"title": null, "orient": "top-right", "offset": 4, "padding": 0, "symbolType": "M-1,-0.65H1V0.65H-1Z", "symbolSize": 576, "symbolStrokeColor": "#a9a9a9", "symbolStrokeWidth": 1, "symbolOpacity": 1, "clipHeight": 16, "labelOffset": 5}}}},
        {"transform": [{"filter": "datum.s === 'Sum'"}], "mark": {"type": "area", "interpolate": "monotone", "fill": {"gradient": "linear", "x1": 0, "y1": 0, "x2": 0, "y2": 1, "stops": [{"offset": 0, "color": "#8a8d91"}, {"offset": 0.3, "color": "#b9bcc0"}, {"offset": 0.6, "color": "#f4f6f8"}, {"offset": 1, "color": "#ffffff"}]}}},
        {"transform": [{"filter": "datum.s === 'Sum'"}], "mark": {"type": "line", "interpolate": "monotone", "stroke": "#b8b8b8", "strokeWidth": 1}},
        {"transform": [{"filter": "datum.s !== 'Sum'"}], "mark": {"type": "line", "interpolate": "monotone", "strokeWidth": 1.5},
          "encoding": {"stroke": {"field": "s", "type": "nominal",
            "scale": {"domain": ["K4s","K3p","Sc4s","Sc3p","Sc3d","V4s","V3p","V3d","O2s","O2p"], "range": ["#2f7d73","#5a4fc0","#d8a2c4","#86bde3","#8a3ea6","#3554b0","#35bfd3","#3b2fa3","#f26a38","#e8401c"]},
            "legend": {"title": null, "orient": "top-right", "offset": 4, "padding": 0, "symbolType": "stroke", "symbolSize": 576, "symbolStrokeWidth": 1.6, "clipHeight": 14, "rowPadding": 4, "labelOffset": 5}}}},
        {"data": {"values": [{}]}, "mark": {"type": "rule", "stroke": "#000", "strokeWidth": 1.2, "strokeDash": [3, 2]},
          "encoding": {"x": {"datum": 0}, "y": {"datum": 0}, "y2": {"datum": 20}}},
        {"data": {"values": [{}]}, "mark": {"type": "text", "align": "left", "baseline": "middle", "fontSize": 14, "font": "Liberation Serif", "color": "#000"},
          "encoding": {"x": {"datum": -5.2}, "y": {"datum": 18.8}, "text": {"value": "(a)"}}}
      ]
    },
    {
      "width": 325, "height": 261,
      "data": {"name": "B"},
      "encoding": {
        "x": {"field": "x", "type": "quantitative", "scale": {"domain": [-6, 10], "nice": false, "zero": false},
          "axis": {"title": "Energy / eV", "values": [-6,-5,-4,-3,-2,-1,0,1,2,3,4,5,6,7,8,9,10], "labelExpr": "datum.value % 2 === 0 ? datum.label : ''", "tickSize": {"condition": {"test": "datum.value % 2 === 0", "value": -5}, "value": -3}, "labelPadding": 10, "titlePadding": 2}},
        "y": {"field": "y", "type": "quantitative", "scale": {"domain": [0, 20], "nice": false},
          "axis": {"title": "Density of states / (electrons•eV⁻¹)", "values": [0,2.5,5,7.5,10,12.5,15,17.5,20], "labelExpr": "datum.value % 5 === 0 ? datum.label : ''", "tickSize": {"condition": {"test": "datum.value % 5 === 0", "value": -5}, "value": -3}, "labelPadding": 6, "titlePadding": 4}}
      },
      "layer": [
        {"transform": [{"filter": "datum.s === 'Sum'"}], "mark": {"type": "area", "interpolate": "monotone"},
          "encoding": {"fill": {"field": "s", "type": "nominal", "scale": {"domain": ["Sum"], "range": ["#c4c6c9"]},
            "legend": {"title": null, "orient": "top-right", "offset": 4, "padding": 0, "symbolType": "M-1,-0.65H1V0.65H-1Z", "symbolSize": 576, "symbolStrokeColor": "#a9a9a9", "symbolStrokeWidth": 1, "symbolOpacity": 1, "clipHeight": 16, "labelOffset": 5}}}},
        {"transform": [{"filter": "datum.s === 'Sum'"}], "mark": {"type": "area", "interpolate": "monotone", "fill": {"gradient": "linear", "x1": 0, "y1": 0, "x2": 0, "y2": 1, "stops": [{"offset": 0, "color": "#8a8d91"}, {"offset": 0.3, "color": "#b9bcc0"}, {"offset": 0.6, "color": "#f4f6f8"}, {"offset": 1, "color": "#ffffff"}]}}},
        {"transform": [{"filter": "datum.s === 'Sum'"}], "mark": {"type": "line", "interpolate": "monotone", "stroke": "#b8b8b8", "strokeWidth": 1}},
        {"transform": [{"filter": "datum.s !== 'Sum'"}], "mark": {"type": "line", "interpolate": "monotone", "strokeWidth": 1.5},
          "encoding": {"stroke": {"field": "s", "type": "nominal",
            "scale": {"domain": ["K4s","K3p","Y5s","Y4p","Y4d","V4s","V3p","V3d","O2s","O2p"], "range": ["#2f7d73","#5a4fc0","#d8a2c4","#86bde3","#8a3ea6","#3554b0","#35bfd3","#3b2fa3","#f26a38","#e8401c"]},
            "legend": {"title": null, "orient": "top-right", "offset": 4, "padding": 0, "symbolType": "stroke", "symbolSize": 576, "symbolStrokeWidth": 1.6, "clipHeight": 14, "rowPadding": 4, "labelOffset": 5}}}},
        {"data": {"values": [{}]}, "mark": {"type": "rule", "stroke": "#000", "strokeWidth": 1.2, "strokeDash": [3, 2]},
          "encoding": {"x": {"datum": 0}, "y": {"datum": 0}, "y2": {"datum": 20}}},
        {"data": {"values": [{}]}, "mark": {"type": "text", "align": "left", "baseline": "middle", "fontSize": 14, "font": "Liberation Serif", "color": "#000"},
          "encoding": {"x": {"datum": -5.2}, "y": {"datum": 18.8}, "text": {"value": "(b)"}}}
      ]
    },
    {
      "width": 325, "height": 261,
      "data": {"name": "C"},
      "encoding": {
        "x": {"field": "x", "type": "quantitative", "scale": {"domain": [-6, 10], "nice": false, "zero": false},
          "axis": {"title": "Energy / eV", "values": [-6,-5,-4,-3,-2,-1,0,1,2,3,4,5,6,7,8,9,10], "labelExpr": "datum.value % 2 === 0 ? datum.label : ''", "tickSize": {"condition": {"test": "datum.value % 2 === 0", "value": -5}, "value": -3}, "labelPadding": 10, "titlePadding": 2}},
        "y": {"field": "y", "type": "quantitative", "scale": {"domain": [0, 20], "nice": false},
          "axis": {"title": "Density of states / (electrons•eV⁻¹)", "values": [0,2.5,5,7.5,10,12.5,15,17.5,20], "labelExpr": "datum.value % 5 === 0 ? datum.label : ''", "tickSize": {"condition": {"test": "datum.value % 5 === 0", "value": -5}, "value": -3}, "labelPadding": 6, "titlePadding": 4}}
      },
      "layer": [
        {"transform": [{"filter": "datum.s === 'Sum'"}], "mark": {"type": "area", "interpolate": "monotone"},
          "encoding": {"fill": {"field": "s", "type": "nominal", "scale": {"domain": ["Sum"], "range": ["#c4c6c9"]},
            "legend": {"title": null, "orient": "top-right", "offset": 4, "padding": 0, "symbolType": "M-1,-0.65H1V0.65H-1Z", "symbolSize": 576, "symbolStrokeColor": "#a9a9a9", "symbolStrokeWidth": 1, "symbolOpacity": 1, "clipHeight": 16, "labelOffset": 5}}}},
        {"transform": [{"filter": "datum.s === 'Sum'"}], "mark": {"type": "area", "interpolate": "monotone", "fill": {"gradient": "linear", "x1": 0, "y1": 0, "x2": 0, "y2": 1, "stops": [{"offset": 0, "color": "#8a8d91"}, {"offset": 0.3, "color": "#b9bcc0"}, {"offset": 0.6, "color": "#f4f6f8"}, {"offset": 1, "color": "#ffffff"}]}}},
        {"transform": [{"filter": "datum.s === 'Sum'"}], "mark": {"type": "line", "interpolate": "monotone", "stroke": "#b8b8b8", "strokeWidth": 1}},
        {"transform": [{"filter": "datum.s !== 'Sum'"}], "mark": {"type": "line", "interpolate": "monotone", "strokeWidth": 1.5},
          "encoding": {"stroke": {"field": "s", "type": "nominal",
            "scale": {"domain": ["K4s","K3p","La6s","La5p","La5d","V4s","V3p","V3d","O2s","O2p"], "range": ["#2f7d73","#5a4fc0","#d8a2c4","#86bde3","#8a3ea6","#3554b0","#35bfd3","#3b2fa3","#f26a38","#e8401c"]},
            "legend": {"title": null, "orient": "top-right", "offset": 4, "padding": 0, "symbolType": "stroke", "symbolSize": 576, "symbolStrokeWidth": 1.6, "clipHeight": 14, "rowPadding": 4, "labelOffset": 5}}}},
        {"data": {"values": [{}]}, "mark": {"type": "rule", "stroke": "#000", "strokeWidth": 1.2, "strokeDash": [3, 2]},
          "encoding": {"x": {"datum": 0}, "y": {"datum": 0}, "y2": {"datum": 20}}},
        {"data": {"values": [{}]}, "mark": {"type": "text", "align": "left", "baseline": "middle", "fontSize": 14, "font": "Liberation Serif", "color": "#000"},
          "encoding": {"x": {"datum": -5.2}, "y": {"datum": 18.8}, "text": {"value": "(c)"}}}
      ]
    },
    {
      "width": 325, "height": 261,
      "data": {"name": "D"},
      "encoding": {
        "x": {"field": "x", "type": "quantitative", "scale": {"domain": [-6, 10], "nice": false, "zero": false},
          "axis": {"title": "Energy / eV", "values": [-6,-5,-4,-3,-2,-1,0,1,2,3,4,5,6,7,8,9,10], "labelExpr": "datum.value % 2 === 0 ? datum.label : ''", "tickSize": {"condition": {"test": "datum.value % 2 === 0", "value": -5}, "value": -3}, "labelPadding": 10, "titlePadding": 2}},
        "y": {"field": "y", "type": "quantitative", "scale": {"domain": [0, 32], "nice": false},
          "axis": {"title": "Density of states / (electrons•eV⁻¹)", "values": [0,4,8,12,16,20,24,28,32], "labelExpr": "datum.value % 8 === 0 ? datum.label : ''", "tickSize": {"condition": {"test": "datum.value % 8 === 0", "value": -5}, "value": -3}, "labelPadding": 6, "titlePadding": 4}}
      },
      "layer": [
        {"transform": [{"filter": "datum.s === 'Sum'"}], "mark": {"type": "area", "interpolate": "monotone"},
          "encoding": {"fill": {"field": "s", "type": "nominal", "scale": {"domain": ["Sum"], "range": ["#c4c6c9"]},
            "legend": {"title": null, "orient": "top-right", "offset": 4, "padding": 0, "symbolType": "M-1,-0.65H1V0.65H-1Z", "symbolSize": 576, "symbolStrokeColor": "#a9a9a9", "symbolStrokeWidth": 1, "symbolOpacity": 1, "clipHeight": 16, "labelOffset": 5}}}},
        {"transform": [{"filter": "datum.s === 'Sum'"}], "mark": {"type": "area", "interpolate": "monotone", "fill": {"gradient": "linear", "x1": 0, "y1": 0, "x2": 0, "y2": 1, "stops": [{"offset": 0, "color": "#8a8d91"}, {"offset": 0.3, "color": "#b9bcc0"}, {"offset": 0.6, "color": "#f4f6f8"}, {"offset": 1, "color": "#ffffff"}]}}},
        {"transform": [{"filter": "datum.s === 'Sum'"}], "mark": {"type": "line", "interpolate": "monotone", "stroke": "#b8b8b8", "strokeWidth": 1}},
        {"transform": [{"filter": "datum.s !== 'Sum'"}], "mark": {"type": "line", "interpolate": "monotone", "strokeWidth": 1.5},
          "encoding": {"stroke": {"field": "s", "type": "nominal",
            "scale": {"domain": ["K4s","K3p","Lu6s","Lu5p","Lu5d","Lu4f","V4s","V3p","V3d","O2s","O2p"], "range": ["#2f7d73","#5a4fc0","#d8a2c4","#86bde3","#8a3ea6","#4b3caa","#3554b0","#35bfd3","#3b2fa3","#f26a38","#e8401c"]},
            "legend": {"title": null, "orient": "top-right", "offset": 4, "padding": 0, "symbolType": "stroke", "symbolSize": 576, "symbolStrokeWidth": 1.6, "clipHeight": 14, "rowPadding": 2.5, "labelOffset": 5}}}},
        {"data": {"values": [{}]}, "mark": {"type": "rule", "stroke": "#000", "strokeWidth": 1.2, "strokeDash": [3, 2]},
          "encoding": {"x": {"datum": 0}, "y": {"datum": 0}, "y2": {"datum": 32}}},
        {"data": {"values": [{}]}, "mark": {"type": "text", "align": "left", "baseline": "middle", "fontSize": 14, "font": "Liberation Serif", "color": "#000"},
          "encoding": {"x": {"datum": -5.2}, "y": {"datum": 30.4}, "text": {"value": "(d)"}}}
      ]
    }
  ],
  "resolve": {"scale": {"fill": "independent", "stroke": "independent"}, "legend": {"fill": "independent", "stroke": "independent"}},
  "config": {
    "font": "Liberation Serif",
    "view": {"stroke": "#111", "strokeWidth": 1.2},
    "axis": {"domainColor": "#111", "domainWidth": 1.2, "tickColor": "#111", "tickWidth": 1.1, "labelColor": "#111", "titleColor": "#111", "labelFont": "Liberation Serif", "titleFont": "Liberation Serif", "labelFontSize": 14, "titleFontSize": 14, "titleFontWeight": "normal", "grid": false, "labelFlush": false, "labelOverlap": false},
    "legend": {"labelFont": "Liberation Serif", "labelColor": "#111", "labelFontSize": 14, "layout": {"top-right": {"direction": "vertical", "margin": 2}}}
  }
}
